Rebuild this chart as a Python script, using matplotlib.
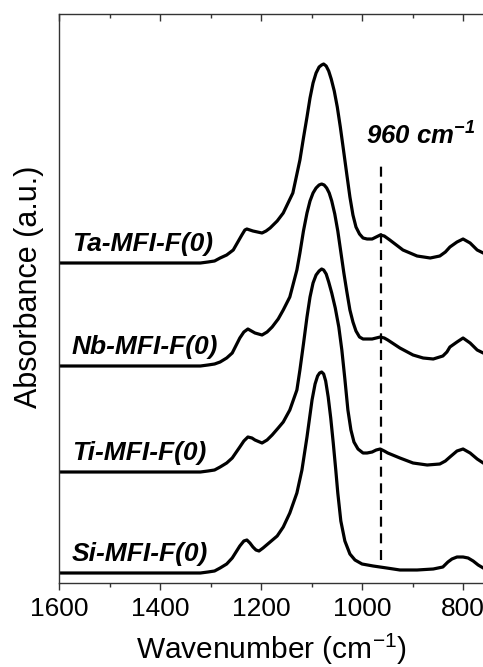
import numpy as np
import matplotlib
matplotlib.use('Agg')
from matplotlib import pyplot as plt
from matplotlib.ticker import MultipleLocator

plt.rcParams['font.family'] = ['Liberation Sans', 'DejaVu Sans']
plt.rcParams['mathtext.fontset'] = 'custom'
plt.rcParams['mathtext.rm'] = 'Liberation Sans'
plt.rcParams['mathtext.it'] = 'Liberation Sans:italic'
plt.rcParams['mathtext.bf'] = 'Liberation Sans:bold:italic'

# Spectra: wavenumber (cm-1) and absorbance above each baseline (a.u.)
names = ['Si-MFI-F(0)', 'Ti-MFI-F(0)', 'Nb-MFI-F(0)', 'Ta-MFI-F(0)']
offsets = [0.10, 1.11, 2.17, 3.20]

wn_si = [1600, 1450, 1320, 1305, 1292, 1281, 1268, 1257, 1242, 1234, 1228, 1222, 1216, 1210,
         1204, 1196, 1182, 1168, 1156, 1143, 1129, 1119, 1109, 1099, 1093, 1088, 1084, 1080,
         1076, 1072, 1067, 1062, 1057, 1052, 1048, 1042, 1034, 1024, 1014, 1000, 978, 951,
         925, 891, 859, 840, 830, 822, 812, 800, 790, 780, 770, 760]
ab_si = [0.0, 0.0, 0.0, 0.01, 0.02, 0.05, 0.09, 0.15, 0.27, 0.32, 0.33, 0.30, 0.26, 0.23,
         0.22, 0.25, 0.31, 0.37, 0.46, 0.60, 0.80, 1.03, 1.36, 1.73, 1.89, 1.97, 2.00, 2.01,
         1.99, 1.92, 1.76, 1.55, 1.30, 1.03, 0.80, 0.52, 0.32, 0.19, 0.13, 0.09, 0.07, 0.05,
         0.03, 0.03, 0.04, 0.06, 0.11, 0.14, 0.16, 0.16, 0.15, 0.12, 0.08, 0.05]

wn_ti = [1600, 1450, 1320, 1305, 1292, 1281, 1268, 1257, 1242, 1234, 1226, 1218, 1212, 1198,
         1188, 1178, 1166, 1156, 1143, 1129, 1123, 1116, 1109, 1103, 1097, 1091, 1085, 1080,
         1076, 1071, 1066, 1060, 1053, 1046, 1040, 1034, 1028, 1022, 1016, 1008, 998, 990,
         980, 972, 964, 956, 949, 925, 899, 871, 846, 835, 826, 812, 800, 786, 772, 760]
ab_ti = [0.0, 0.0, 0.0, 0.01, 0.02, 0.05, 0.09, 0.14, 0.25, 0.31, 0.35, 0.34, 0.32, 0.29,
         0.32, 0.37, 0.44, 0.50, 0.62, 0.82, 1.02, 1.28, 1.55, 1.75, 1.89, 1.97, 2.01, 2.03,
         2.02, 1.98, 1.90, 1.79, 1.64, 1.45, 1.22, 0.93, 0.62, 0.42, 0.30, 0.23, 0.19, 0.19,
         0.20, 0.22, 0.23, 0.21, 0.19, 0.14, 0.09, 0.07, 0.08, 0.11, 0.15, 0.21, 0.23, 0.19,
         0.13, 0.09]

wn_nb = [1600, 1450, 1320, 1305, 1292, 1281, 1268, 1257, 1242, 1234, 1226, 1219, 1212, 1198,
         1188, 1178, 1166, 1156, 1143, 1129, 1123, 1116, 1109, 1103, 1097, 1091, 1085, 1080,
         1075, 1070, 1065, 1060, 1054, 1048, 1042, 1036, 1030, 1024, 1018, 1012, 1005, 998,
         990, 980, 972, 964, 956, 949, 925, 899, 879, 859, 840, 832, 826, 812, 800, 786, 772,
         760]
ab_nb = [0.0, 0.0, 0.0, 0.01, 0.02, 0.04, 0.08, 0.13, 0.28, 0.34, 0.37, 0.35, 0.33, 0.31,
         0.34, 0.39, 0.47, 0.56, 0.69, 0.96, 1.13, 1.35, 1.53, 1.65, 1.73, 1.78, 1.81, 1.82,
         1.81, 1.78, 1.73, 1.65, 1.52, 1.35, 1.14, 0.93, 0.74, 0.56, 0.44, 0.35, 0.29, 0.27,
         0.27, 0.27, 0.28, 0.29, 0.28, 0.26, 0.18, 0.11, 0.08, 0.07, 0.10, 0.14, 0.19, 0.24,
         0.28, 0.23, 0.16, 0.13]

wn_ta = [1600, 1450, 1320, 1305, 1292, 1281, 1268, 1255, 1238, 1232, 1228, 1222, 1216, 1198,
         1190, 1182, 1168, 1156, 1137, 1123, 1116, 1109, 1103, 1097, 1091, 1085, 1080, 1076,
         1071, 1066, 1061, 1055, 1049, 1043, 1037, 1030, 1024, 1018, 1012, 1005, 998, 990, 980,
         972, 964, 956, 945, 919, 891, 865, 846, 835, 826, 812, 800, 786, 772, 760]
ab_ta = [0.0, 0.0, 0.0, 0.01, 0.02, 0.05, 0.08, 0.13, 0.28, 0.33, 0.34, 0.33, 0.32, 0.30,
         0.32, 0.35, 0.42, 0.50, 0.70, 1.03, 1.25, 1.46, 1.65, 1.80, 1.90, 1.96, 1.98, 1.99,
         1.97, 1.92, 1.84, 1.72, 1.56, 1.36, 1.14, 0.88, 0.66, 0.48, 0.36, 0.29, 0.25, 0.24,
         0.24, 0.26, 0.28, 0.27, 0.23, 0.13, 0.07, 0.05, 0.07, 0.11, 0.16, 0.21, 0.24, 0.20,
         0.13, 0.10]

spectra = [(wn_si, ab_si), (wn_ti, ab_ti), (wn_nb, ab_nb), (wn_ta, ab_ta)]

fig = plt.figure(figsize=(4.83, 6.67), dpi=100)
ax = fig.add_axes([59 / 483, 1 - 583 / 667, 424 / 483, 569 / 667])

for (wn, ab), off, name in zip(spectra, offsets, names):
    ax.plot(wn, np.array(ab) + off, color='black', lw=2.3, solid_joinstyle='round')
    ax.text(1575, off + 0.12, name, fontsize=19, fontweight='bold', fontstyle='italic',
            ha='left', va='baseline')

# marker for the 960 cm-1 band
ax.plot([962, 962], [0.23, 4.23], color='black', lw=1.6, ls=(0, (4.5, 3)))
ax.text(992, 4.38, r'960 cm$^{\mathbf{-1}}$', fontsize=18.5, fontweight='bold',
        fontstyle='italic', ha='left', va='baseline')

ax.set_xlim(1600, 760.5)
ax.set_ylim(0, 5.69)
ax.xaxis.set_major_locator(MultipleLocator(200))
ax.xaxis.set_minor_locator(MultipleLocator(100))
ax.set_yticks([])
ax.spines['right'].set_visible(False)
for s in ['left', 'top', 'bottom']:
    ax.spines[s].set_linewidth(1.0)
    ax.spines[s].set_color('#333333')

ax.tick_params(axis='x', which='major', direction='out', length=5, width=1.0,
               labelsize=19, pad=5, top=True, color='#333333')
ax.tick_params(axis='x', which='minor', direction='out', length=3, width=1.0,
               top=True, color='#333333')
# top ticks point inward
for t in ax.xaxis.get_major_ticks() + ax.xaxis.get_minor_ticks():
    t.tick2line.set_marker(3)

ax.set_xlabel('Wavenumber (cm$^{-1}$)', fontsize=21.5)
ax.xaxis.set_label_coords(0.50, -0.086)
ax.set_ylabel('Absorbance (a.u.)', fontsize=22)
ax.yaxis.set_label_coords(-0.036, 0.52)

fig.savefig('out.png', dpi=100)
